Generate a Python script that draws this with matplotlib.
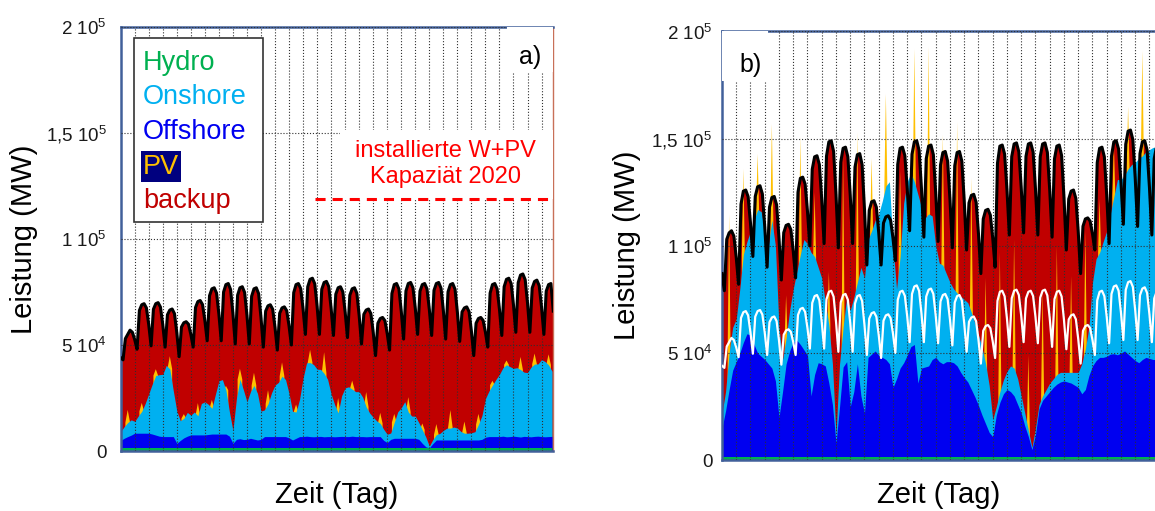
import numpy as np
import matplotlib.pyplot as plt
from matplotlib.patches import Rectangle

plt.rcParams['font.family'] = ['Liberation Sans', 'DejaVu Sans']
plt.rcParams['mathtext.fontset'] = 'custom'
plt.rcParams['mathtext.rm'] = 'Liberation Sans'
plt.rcParams['mathtext.it'] = 'Liberation Sans:italic'

# all values in 1000 MW (31 days)
# load: one sample every 4 h (0, 4, 8, 12, 16, 20 h of each day)
load_a = [
    44, 43, 53, 55, 57, 56,           52.5, 48, 66.3, 69, 69.5, 67.5,   59.5, 49.6, 66.9, 69.5, 70, 67.9,
    59.5, 49, 64.3, 66.5, 67, 64.8,   55.8, 44.5, 58.5, 60.5, 61, 59.8, 55, 49, 67.7, 70.5, 71, 69.1,
    61.5, 52, 73.3, 76.5, 77, 74.5,   64.5, 52, 75, 78.5, 79, 76.2,     64.8, 50.5, 73.5, 77, 77.5, 74.8,
    64, 50.5, 73, 76.5, 77, 74.2,     63, 49, 66, 68.5, 69, 66.9,       58.3, 47.6, 65, 67.5, 68, 66.2,
    59, 50, 74.7, 78.5, 79, 76.6,     67, 55, 77.5, 81, 81.5, 78.9,     68.3, 55, 76.3, 79.5, 80, 77.5,
    67.3, 54.5, 74, 77, 77.5, 75.1,   65.5, 53.5, 73.5, 76.5, 77, 74.4, 63.8, 50.5, 64.5, 66.5, 67, 64.8,
    56, 45, 60.3, 62.5, 63, 61.5,     55.3, 47.6, 74.3, 78.5, 79, 76.4, 65.9, 52.8, 75.5, 79, 79.5, 77,
    67.3, 55, 75.4, 78.5, 79, 76.5,   66.8, 54.5, 75.8, 79, 79.5, 76.8, 66.2, 52.8, 75.1, 78.5, 79, 76.3,
    65.4, 51.7, 65.6, 67.5, 68, 65.7, 56.5, 45, 60.3, 62.5, 63, 61.6,   56, 49, 74.5, 78.5, 79, 76.5,
    66.8, 54.5, 77.5, 81, 81.5, 79,   68.8, 56, 79.4, 83, 83.5, 80.8,   69.8, 56, 76.9, 80, 80.6, 78,
    67.8, 55, 75.4, 78.5, 79, 66,
]
# black line of b)
load_b = [
    87, 79, 103, 106, 107, 104.5,        94.5, 82, 119.4, 125.5, 126, 122.9,  110.5, 95, 123, 127.5, 128, 124.2,
    109, 90, 118, 122.5, 123, 119.1,     103.5, 84, 106.1, 109.5, 110, 107.5, 97.5, 85, 125, 131.5, 132, 128.8,
    116, 100, 135.7, 141.5, 142, 137.9,  121.5, 101, 141.8, 148.5, 149, 144,  124, 99, 139, 145.5, 146, 141.5,
    123.5, 101, 136.7, 142.5, 143, 137.8, 117, 91, 116.5, 120.5, 121, 118,   106, 91, 110.6, 113.5, 114, 111.9,
    103.5, 93, 138, 145.5, 146, 142.1,   126.5, 107, 142.7, 148.5, 149, 144.5, 126.5, 104, 140.6, 146.5, 147, 142.5,
    124.5, 102, 137.7, 143.5, 144, 139.5, 121.5, 99, 137.3, 143.5, 144, 139.4, 121, 98, 120, 123.5, 124, 120.3,
    105.5, 87, 112.5, 116.5, 117, 114.3, 103.5, 90, 138.5, 146.5, 147, 142.8, 126, 105, 141.6, 147.5, 148, 143.8,
    127, 106, 141.7, 147.5, 148, 143.7,  126.5, 105, 141.6, 147.5, 148, 143.6, 126, 104, 140.6, 146.5, 147, 142.1,
    122.5, 98, 121.8, 125.5, 126, 122.1, 106.5, 87, 109.1, 112.5, 113, 111.5, 105.5, 98, 138.8, 145.5, 146, 141.5,
    123.5, 101, 141.8, 148.5, 149, 145.1, 129.5, 110, 147.4, 153.5, 154, 149.5, 131.5, 109, 143, 148.5, 149, 144.6,
    127, 105, 140.7, 146.5, 147, 140,
]

# wind: one sample every 6 h (0, 6, 12, 18 h of each day)
offshore_a = [
    3.5, 4.5, 5.3, 6.0,  6.9, 6.9, 6.9, 6.9,  6.9, 6.5, 6.0, 5.5,  5.3, 5.3, 5.3, 5.3,
    2.1, 3.5, 4.7, 5.5,  6.1, 6.1, 6.1, 6.1,  6.1, 6.3, 6.5, 6.5,  6.5, 6.5, 6.5, 5.5,
    2.1, 4.0, 4.3, 3.9,  4.0, 4.5, 4.1, 3.7,  4.0, 5.3, 5.3, 5.3,  5.3, 5.3, 5.3, 5.3,
    4.7, 3.7, 4.5, 5.3,  5.3, 5.5, 5.3, 5.2,  5.3, 5.4, 5.2, 5.3,  5.3, 5.2, 5.3, 5.4,
    5.3, 5.3, 5.5, 5.3,  5.3, 5.3, 5.2, 5.3,  5.3, 5.3, 5.3, 3.5,  2.5, 4.0, 4.5, 4.5,
    4.5, 4.5, 4.5, 4.5,  4.5, 4.0, 2.1, 0.5,  0.0, 2.0, 3.7, 3.7,  3.7, 3.7, 3.7, 3.7,
    3.7, 3.7, 3.7, 3.7,  3.7, 3.7, 3.7, 4.0,  5.0, 5.3, 5.3, 5.3,  5.3, 5.5, 5.2, 5.3,
    5.5, 5.3, 5.1, 5.4,  5.3, 5.2, 5.4, 5.5,  5.3, 5.2, 5.3, 5.4,
]
onshore_a = [
    4.2, 5.5, 6.6, 7.2,      5.6, 8.1, 10.3, 14.1,    18.6, 23.6, 28.1, 29.0,  29.4, 33.6, 31.9, 21.6,
    15.3, 9.3, 9.2, 11.2,    9.3, 10.8, 9.0, 14.8,    15.6, 14.2, 12.1, 18.7,  25.1, 25.7, 20.7, 11.5,
    6.1, 19.3, 28.0, 23.4,   17.7, 22.0, 25.3, 22.0,  13.3, 12.6, 15.4, 20.6,  24.3, 25.6, 28.5, 26.9,
    20.9, 13.5, 12.4, 17.6,  27.6, 34.6, 34.9, 34.1,  31.8, 31.6, 29.9, 27.0,  20.1, 15.2, 11.2, 19.2,
    23.0, 23.5, 22.2, 21.2,  21.2, 18.6, 14.1, 11.1,  9.1, 7.4, 6.2, 5.2,      3.9, 3.0, 7.5, 12.5,
    14.4, 17.3, 12.4, 10.5,  10.4, 7.9, 6.4, 4.6,     0.8, 1.9, 2.5, 3.1,      4.5, 5.6, 5.6, 6.1,
    5.6, 4.0, 3.2, 3.2,      3.4, 3.9, 7.3, 11.2,     18.2, 21.5, 24.3, 27.0,  29.4, 32.3, 34.0, 33.0,
    32.0, 32.5, 31.8, 30.3,  30.2, 32.9, 34.1, 34.1,  36.3, 35.5, 33.8, 30.7,
]
offshore_b = [
    13.5, 21.5, 31.5, 40.5,  44.5, 48.5, 53.5, 57.5,  57, 52.5, 48.5, 47,      45.5, 43.5, 41.5, 35.5,
    18.5, 30.5, 43.5, 49.5,  53.5, 54.5, 52.5, 50,    47.5, 28.5, 38.5, 44,    43.5, 42.5, 34.5, 24.5,
    6.5, 23.5, 42, 44.5,     23.5, 30.5, 43.5, 28.5,  20.5, 46.5, 48, 49.5,    47.5, 46.5, 45.5, 43.5,
    32.5, 36.5, 41.5, 44,    47.5, 51.5, 52.5, 34.5,  41.5, 42, 42.5, 45.5,    46.5, 44.5, 43.5, 44.5,
    44.5, 44, 42.5, 39.5,    37, 35, 31.5, 28,        24, 19.5, 15.5, 11.5,    9.5, 19.5, 25.5, 29.5,
    31.5, 30.5, 28.5, 24.5,  20.5, 14.5, 9.5, 3.5,    10.5, 22.5, 26.5, 28.5,  30.5, 32.5, 34, 35,
    35.5, 35, 34.5, 33.5,    32.5, 29.5, 31.5, 38,    42.5, 45, 46.5, 46.5,    47, 48, 48.2, 47.7,
    48.5, 49.5, 48, 46.5,    45, 44, 45.5, 46.5,      46, 45.5, 45.5, 45.5,
]
onshore_b = [
    7, 9, 17, 20,        20, 30, 41, 43,      48.5, 58, 67, 67.5,   60, 55, 69, 63,
    42, 15, 12, 19,      25, 32, 42, 51.5,    52, 67, 55, 44.5,     40, 30, 27, 19,
    4, 20, 18.5, 30,     45, 44, 38, 60,      63, 55, 57.5, 61,     66, 73, 81, 85,
    66, 42, 52, 74.5,    81, 81, 76, 88,      75, 69.5, 71, 67,     52, 46, 46, 41,
    37, 34.5, 34, 35.5,  36.5, 37, 36, 34.5,  33, 31.5, 28, 22,     8, 4, 5, 6.5,
    8.5, 12, 13, 12,     8, 6, 3, 1,          3, 2, 2, 3,           4, 4, 4.5, 4.5,
    4, 4.5, 5, 6,        7, 14, 19, 22.5,     39, 47.5, 49, 54,     58.5, 65.5, 73.3, 81.8,
    81, 82, 86.5, 90,    92.5, 95.5, 95, 96,  97.5, 99, 99, 99,
]

# PV: noon value of each day
pv_a = [6, 4, 3, 6, 2, 6, 4, 2, 5, 6, 6.5, 6.5, 3.5, 6, 10, 7,
        4, 7, 5, 4, 7, 3, 5, 8.5, 5.5, 5, 2, 2, 6, 5, 5]
pv_b = [65, 40, 26, 45, 20, 55, 30, 25, 80, 70, 34, 43, 40, 62, 78, 61,
        80, 63, 40, 65, 60, 35, 50, 60, 45, 55, 25, 25, 29, 49, 50]

hydro_a = 1.5
hydro_b = 1.4
capacity_2020 = 119   # installierte W+PV Kapazitaet 2020

ytick_vals = [0, 50, 100, 150, 200]
ytick_labels = ['0', r'5 10$^{\mathrm{4}}$', r'1 10$^{\mathrm{5}}$',
                r'1,5 10$^{\mathrm{5}}$', r'2 10$^{\mathrm{5}}$']

c_hydro = '#00b050'
c_on = '#00b0f0'
c_off = '#0000f0'
c_pv = '#ffc000'
c_backup = '#c00000'
c_frame = '#41609a'
x_end = 740


def draw_panel(ax, load, offshore, onshore, pv, hydro, pv_halfwidth, white=None):
    t_load = np.arange(len(load)) * 4
    t_wind = np.arange(len(onshore)) * 6
    hyd = np.full(len(t_wind), hydro)
    off_top = hyd + np.array(offshore)
    on_top = off_top + np.array(onshore)

    ax.fill_between(t_load, 0, load, color=c_backup, lw=0, zorder=1)
    # PV spikes sit on top of the wind stack at noon
    t_noon = np.arange(len(pv)) * 24 + 12
    w = pv_halfwidth
    for tn, base, p in zip(t_noon, on_top[2::4], pv):
        ax.fill([tn - w, tn, tn + w, tn + w, tn - w], [base, base + p, base, 0, 0],
                color=c_pv, lw=0, zorder=1.1)
    ax.fill_between(t_wind, 0, on_top, color=c_on, lw=0, zorder=1.2)
    ax.fill_between(t_wind, 0, off_top, color=c_off, lw=0, zorder=1.3)
    ax.fill_between(t_wind, 0, hyd, color=c_hydro, lw=0, zorder=1.4)
    ax.plot(t_load, load, color='black', lw=2.2, zorder=3)
    if white is not None:
        ax.plot(t_load, white, color='white', lw=1.6, zorder=3.1)

    ax.set_xlim(0, x_end)
    ax.set_ylim(0, 200)
    ax.set_xticks(np.arange(24, x_end, 24))
    ax.set_xticklabels([])
    ax.set_yticks(ytick_vals)
    ax.set_yticklabels(ytick_labels, fontsize=13.5, color='#1a1a1a')
    ax.tick_params(axis='both', length=0)
    ax.set_axisbelow(False)
    ax.grid(True, ls=':', color='#303030', lw=0.8)
    for s in ax.spines.values():
        s.set_color(c_frame)
        s.set_linewidth(1.8)
    ax.set_ylabel('Leistung (MW)', fontsize=21, va='center')
    ax.set_xlabel('Zeit (Tag)', fontsize=21, va='center')


fig = plt.figure(figsize=(11.55, 5.11), dpi=100)
ax_a = fig.add_axes([0.1045, 0.1174, 0.3745, 0.8297])
ax_b = fig.add_axes([0.6251, 0.0998, 0.3804, 0.8386])

draw_panel(ax_a, load_a, offshore_a, onshore_a, pv_a, hydro_a, 4)
draw_panel(ax_b, load_b, offshore_b, onshore_b, pv_b, hydro_b, 2.5, white=load_a)

ax_a.tick_params(axis='y', pad=10)
ax_b.tick_params(axis='y', pad=7)
ax_a.spines['right'].set_color('#c87058')
ax_a.spines['right'].set_linewidth(1)
ax_a.yaxis.set_label_coords(-0.223, 0.5)
ax_b.yaxis.set_label_coords(-0.217, 0.5)
ax_a.xaxis.set_label_coords(0.5, -0.104)
ax_b.xaxis.set_label_coords(0.493, -0.082)

# legend box of a)
ax_a.add_patch(Rectangle((0.031, 0.540), 0.298, 0.434, transform=ax_a.transAxes,
                         fc='white', ec='#333333', lw=1.2, zorder=4))
entries = [('Hydro', c_hydro), ('Onshore', c_on), ('Offshore', c_off),
           ('PV', c_pv), ('backup', c_backup)]
for i, (name, col) in enumerate(entries):
    y = 0.899 - i * 0.0815
    kw = {}
    if name == 'PV':
        kw['bbox'] = dict(boxstyle='square,pad=0.08', fc='#00007f', ec='none')
    ax_a.text(0.0515, y, name, transform=ax_a.transAxes, color=col, fontsize=19.5,
              va='baseline', ha='left', zorder=5, **kw)

# capacity note
ax_a.add_patch(Rectangle((0.507, 0.594), 0.493, 0.163, transform=ax_a.transAxes,
                         fc='white', ec='none', zorder=4))
ax_a.text(0.75, 0.677, 'installierte W+PV\nKapaziät 2020', transform=ax_a.transAxes,
          color='#ff0000', fontsize=17, ha='center', va='center', zorder=5)
ax_a.axhline(capacity_2020, xmin=0.449, xmax=1.0, color='#ff0000', lw=2.2,
             dashes=(3.3, 2.3), zorder=6)

# panel letters
ax_a.add_patch(Rectangle((0.893, 0.894), 0.107, 0.106, transform=ax_a.transAxes,
                         fc='white', ec='none', zorder=4))
ax_a.text(0.946, 0.93, 'a)', transform=ax_a.transAxes, fontsize=18,
          ha='center', va='center', zorder=5)
ax_b.add_patch(Rectangle((0.0, 0.884), 0.105, 0.116, transform=ax_b.transAxes,
                         fc='white', ec='none', zorder=4))
ax_b.text(0.064, 0.922, 'b)', transform=ax_b.transAxes, fontsize=18,
          ha='center', va='center', zorder=5)

plt.savefig('out.png', dpi=100)
